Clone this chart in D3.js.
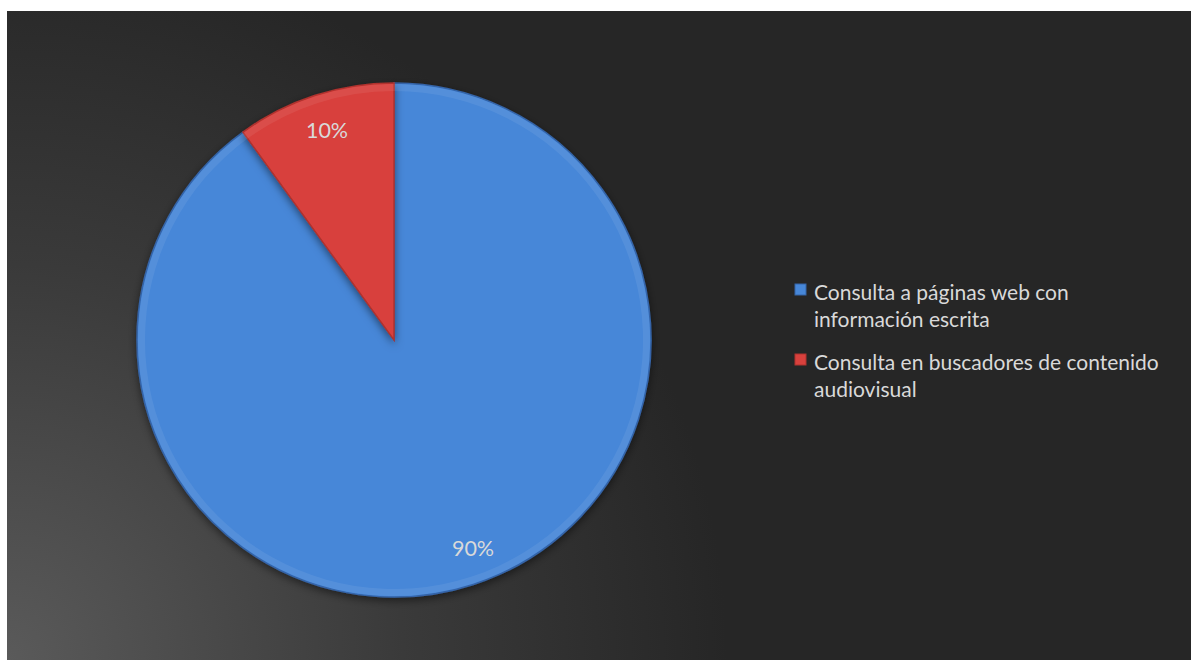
<!DOCTYPE html>
<html><head><meta charset="utf-8">
<script src="https://cdn.jsdelivr.net/npm/d3@7"></script>
<style>html,body{margin:0;padding:0;background:#fff;}svg{display:block;}</style>
</head><body>
<script>
const categories = ["Consulta a páginas web con información escrita", "Consulta en buscadores de contenido audiovisual"];
const legendLines = [["Consulta a páginas web con", "información escrita"], ["Consulta en buscadores de contenido", "audiovisual"]];
const values = [90, 10];
const labels = ["90%", "10%"];
const colors = ["#4787d8", "#d8413d"];
const darkColors = ["#3464a8", "#b0322e"];

const W = 1191, H = 660;
const svg = d3.select("body").append("svg").attr("width", W).attr("height", H);
const defs = svg.append("defs");

const bg = defs.append("radialGradient").attr("id", "bg").attr("gradientUnits", "userSpaceOnUse")
  .attr("cx", 7).attr("cy", 660).attr("r", 720);
bg.append("stop").attr("offset", "0").attr("stop-color", "#5a5a5a");
bg.append("stop").attr("offset", "0.55").attr("stop-color", "#3a3a3a");
bg.append("stop").attr("offset", "1").attr("stop-color", "#262626");
svg.append("rect").attr("x", 7).attr("y", 11).attr("width", W - 7).attr("height", H - 11).attr("fill", "url(#bg)");

const cx = 394, cy = 340, R = 257;
colors.forEach((c, i) => {
  const g = defs.append("linearGradient").attr("id", "g" + i).attr("gradientUnits", "userSpaceOnUse")
    .attr("x1", 0).attr("y1", cy - R).attr("x2", 0).attr("y2", cy + R);
  g.append("stop").attr("offset", "0").attr("stop-color", c);
  g.append("stop").attr("offset", "0.35").attr("stop-color", c);
  g.append("stop").attr("offset", "1").attr("stop-color", darkColors[i]);
});
const sh = defs.append("filter").attr("id", "shadow").attr("x", "-10%").attr("y", "-10%").attr("width", "120%").attr("height", "120%");
sh.append("feDropShadow").attr("dx", 0).attr("dy", 3).attr("stdDeviation", 4).attr("flood-color", "#000").attr("flood-opacity", 0.5);

const pie = d3.pie().sort(null).startAngle(0).endAngle(2 * Math.PI);
const arcs = pie(values);
const arc = d3.arc().innerRadius(0).outerRadius(R);
const g = svg.append("g").attr("transform", `translate(${cx},${cy})`);
g.selectAll("path.slice").data(arcs).enter().append("path").attr("class", "slice")
  .attr("d", arc).attr("fill", (d, i) => `url(#g${i})`)
  .attr("stroke", (d, i) => darkColors[i]).attr("stroke-width", 1.5)
  .attr("filter", "url(#shadow)");
// bevel highlight
const bevel = d3.arc().innerRadius(R - 8).outerRadius(R - 1);
g.selectAll("path.bevel").data(arcs).enter().append("path").attr("class", "bevel")
  .attr("d", bevel).attr("fill", "#fff").attr("opacity", 0.07);

const lblPos = [ [79, 216], [-67, -202] ];
g.selectAll("text.lbl").data(arcs).enter().append("text").attr("class", "lbl")
  .attr("x", (d, i) => lblPos[i][0]).attr("y", (d, i) => lblPos[i][1])
  .attr("text-anchor", "middle").attr("fill", "#d9d9d9")
  .attr("font-family", "Lato, 'Open Sans', sans-serif").attr("font-size", 21.5)
  .text((d, i) => labels[i]);

// legend
const lg = svg.append("g");
const itemY = [300, 370];
categories.forEach((c, i) => {
  lg.append("rect").attr("x", 795).attr("y", itemY[i] - 16).attr("width", 11).attr("height", 11)
    .attr("fill", colors[i]).attr("stroke", darkColors[i]).attr("stroke-width", 1);
  const t = lg.append("text").attr("x", 814).attr("y", itemY[i]).attr("fill", "#d9d9d9")
    .attr("font-family", "Lato, 'Open Sans', sans-serif").attr("font-size", 21);
  legendLines[i].forEach((ln, j) => {
    t.append("tspan").attr("x", 814).attr("y", itemY[i] + j * 27).text(ln);
  });
});
</script>
</body></html>
